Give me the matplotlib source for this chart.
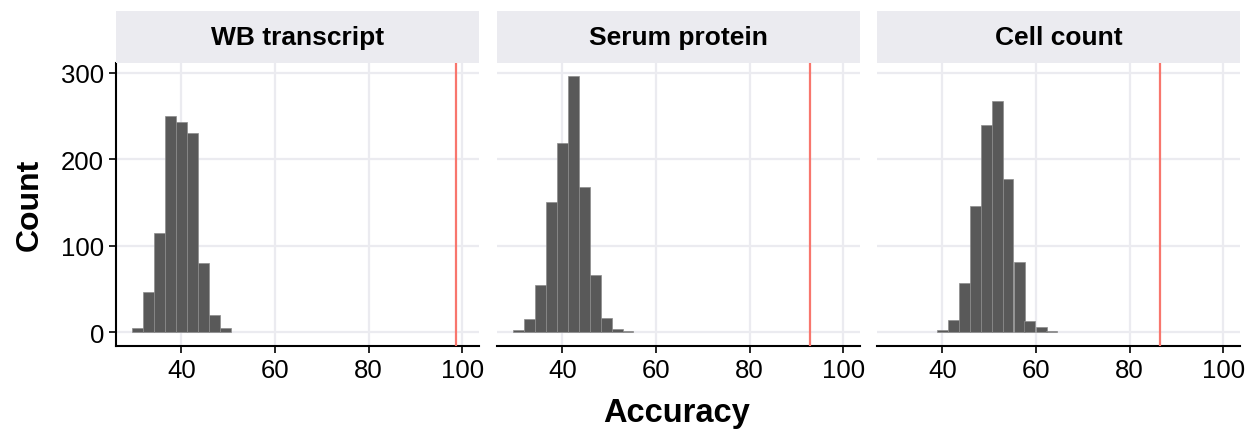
import matplotlib
matplotlib.use('Agg')
import matplotlib.pyplot as plt

plt.rcParams['font.family'] = ['Liberation Sans', 'DejaVu Sans']

# facet titles and observed accuracy (red line)
panels = ['WB transcript', 'Serum protein', 'Cell count']
observed = [98.6, 92.9, 86.6]

# histogram bins (centres) and counts
BIN_WIDTH = 2.34
wbCenters = [30.6, 33.0, 35.3, 37.7, 40.0, 42.3, 44.7, 47.0, 49.4]
wbCounts = [5, 47, 115, 250, 243, 230, 80, 20, 5]
serumCenters = [30.6, 33.0, 35.3, 37.7, 40.0, 42.3, 44.7, 47.0, 49.4, 51.7, 54.0]
serumCounts = [3, 15, 55, 151, 219, 296, 168, 66, 16, 4, 1]
cellCenters = [40.0, 42.3, 44.7, 47.0, 49.4, 51.7, 54.0, 56.4, 58.7, 61.1, 63.4]
cellCounts = [3, 14, 57, 146, 239, 267, 177, 81, 13, 6, 1]

xTicks = [40, 60, 80, 100]
yTicks = [0, 100, 200, 300]

W, H = 1250, 435
fig = plt.figure(figsize=(W / 100, H / 100), dpi=100)

lefts = [116, 497, 877]
panelW = 363
top, bottom = 64, 347
stripTop = 12
gridColor = '#ebebf0'

data = [(wbCenters, wbCounts), (serumCenters, serumCounts), (cellCenters, cellCounts)]

for i, (title, (centers, counts), obs) in enumerate(zip(panels, data, observed)):
    ax = fig.add_axes([lefts[i] / W, 1 - bottom / H, panelW / W, (bottom - top) / H])
    ax.set_axisbelow(True)
    ax.bar(centers, counts, width=BIN_WIDTH, color='#595959',
           edgecolor='#8c8c8c', linewidth=0.5, zorder=2)
    ax.axvline(obs, color='#F8766D', linewidth=1.6, zorder=3)

    ax.set_xlim(26.0, 103.6)
    ax.set_ylim(-15.8, 311)
    ax.set_xticks(xTicks)
    ax.set_yticks(yTicks)
    ax.grid(True, color=gridColor, linewidth=1.6)
    ax.tick_params(axis='both', labelsize=18.5, length=5, width=1.2, color='black')

    for s in ['top', 'right']:
        ax.spines[s].set_visible(False)
    ax.spines['bottom'].set_linewidth(1.5)
    if i == 0:
        ax.spines['left'].set_linewidth(1.5)
    else:
        ax.spines['left'].set_visible(False)
        ax.tick_params(axis='y', left=False, labelleft=False)

    strip = fig.add_axes([lefts[i] / W, 1 - top / H, panelW / W, (top - stripTop) / H])
    strip.set_facecolor(gridColor)
    strip.set_xticks([])
    strip.set_yticks([])
    for s in strip.spines.values():
        s.set_visible(False)
    strip.text(0.5, 0.5, title, ha='center', va='center', fontsize=19,
               fontweight='bold', transform=strip.transAxes)

fig.text(30 / W, 1 - 205 / H, 'Count', rotation=90, ha='center', va='center',
         fontsize=23, fontweight='bold')
fig.text(677 / W, 1 - 414 / H, 'Accuracy', ha='center', va='center',
         fontsize=23.5, fontweight='bold')

plt.savefig('out.png', dpi=100)
plt.close()
